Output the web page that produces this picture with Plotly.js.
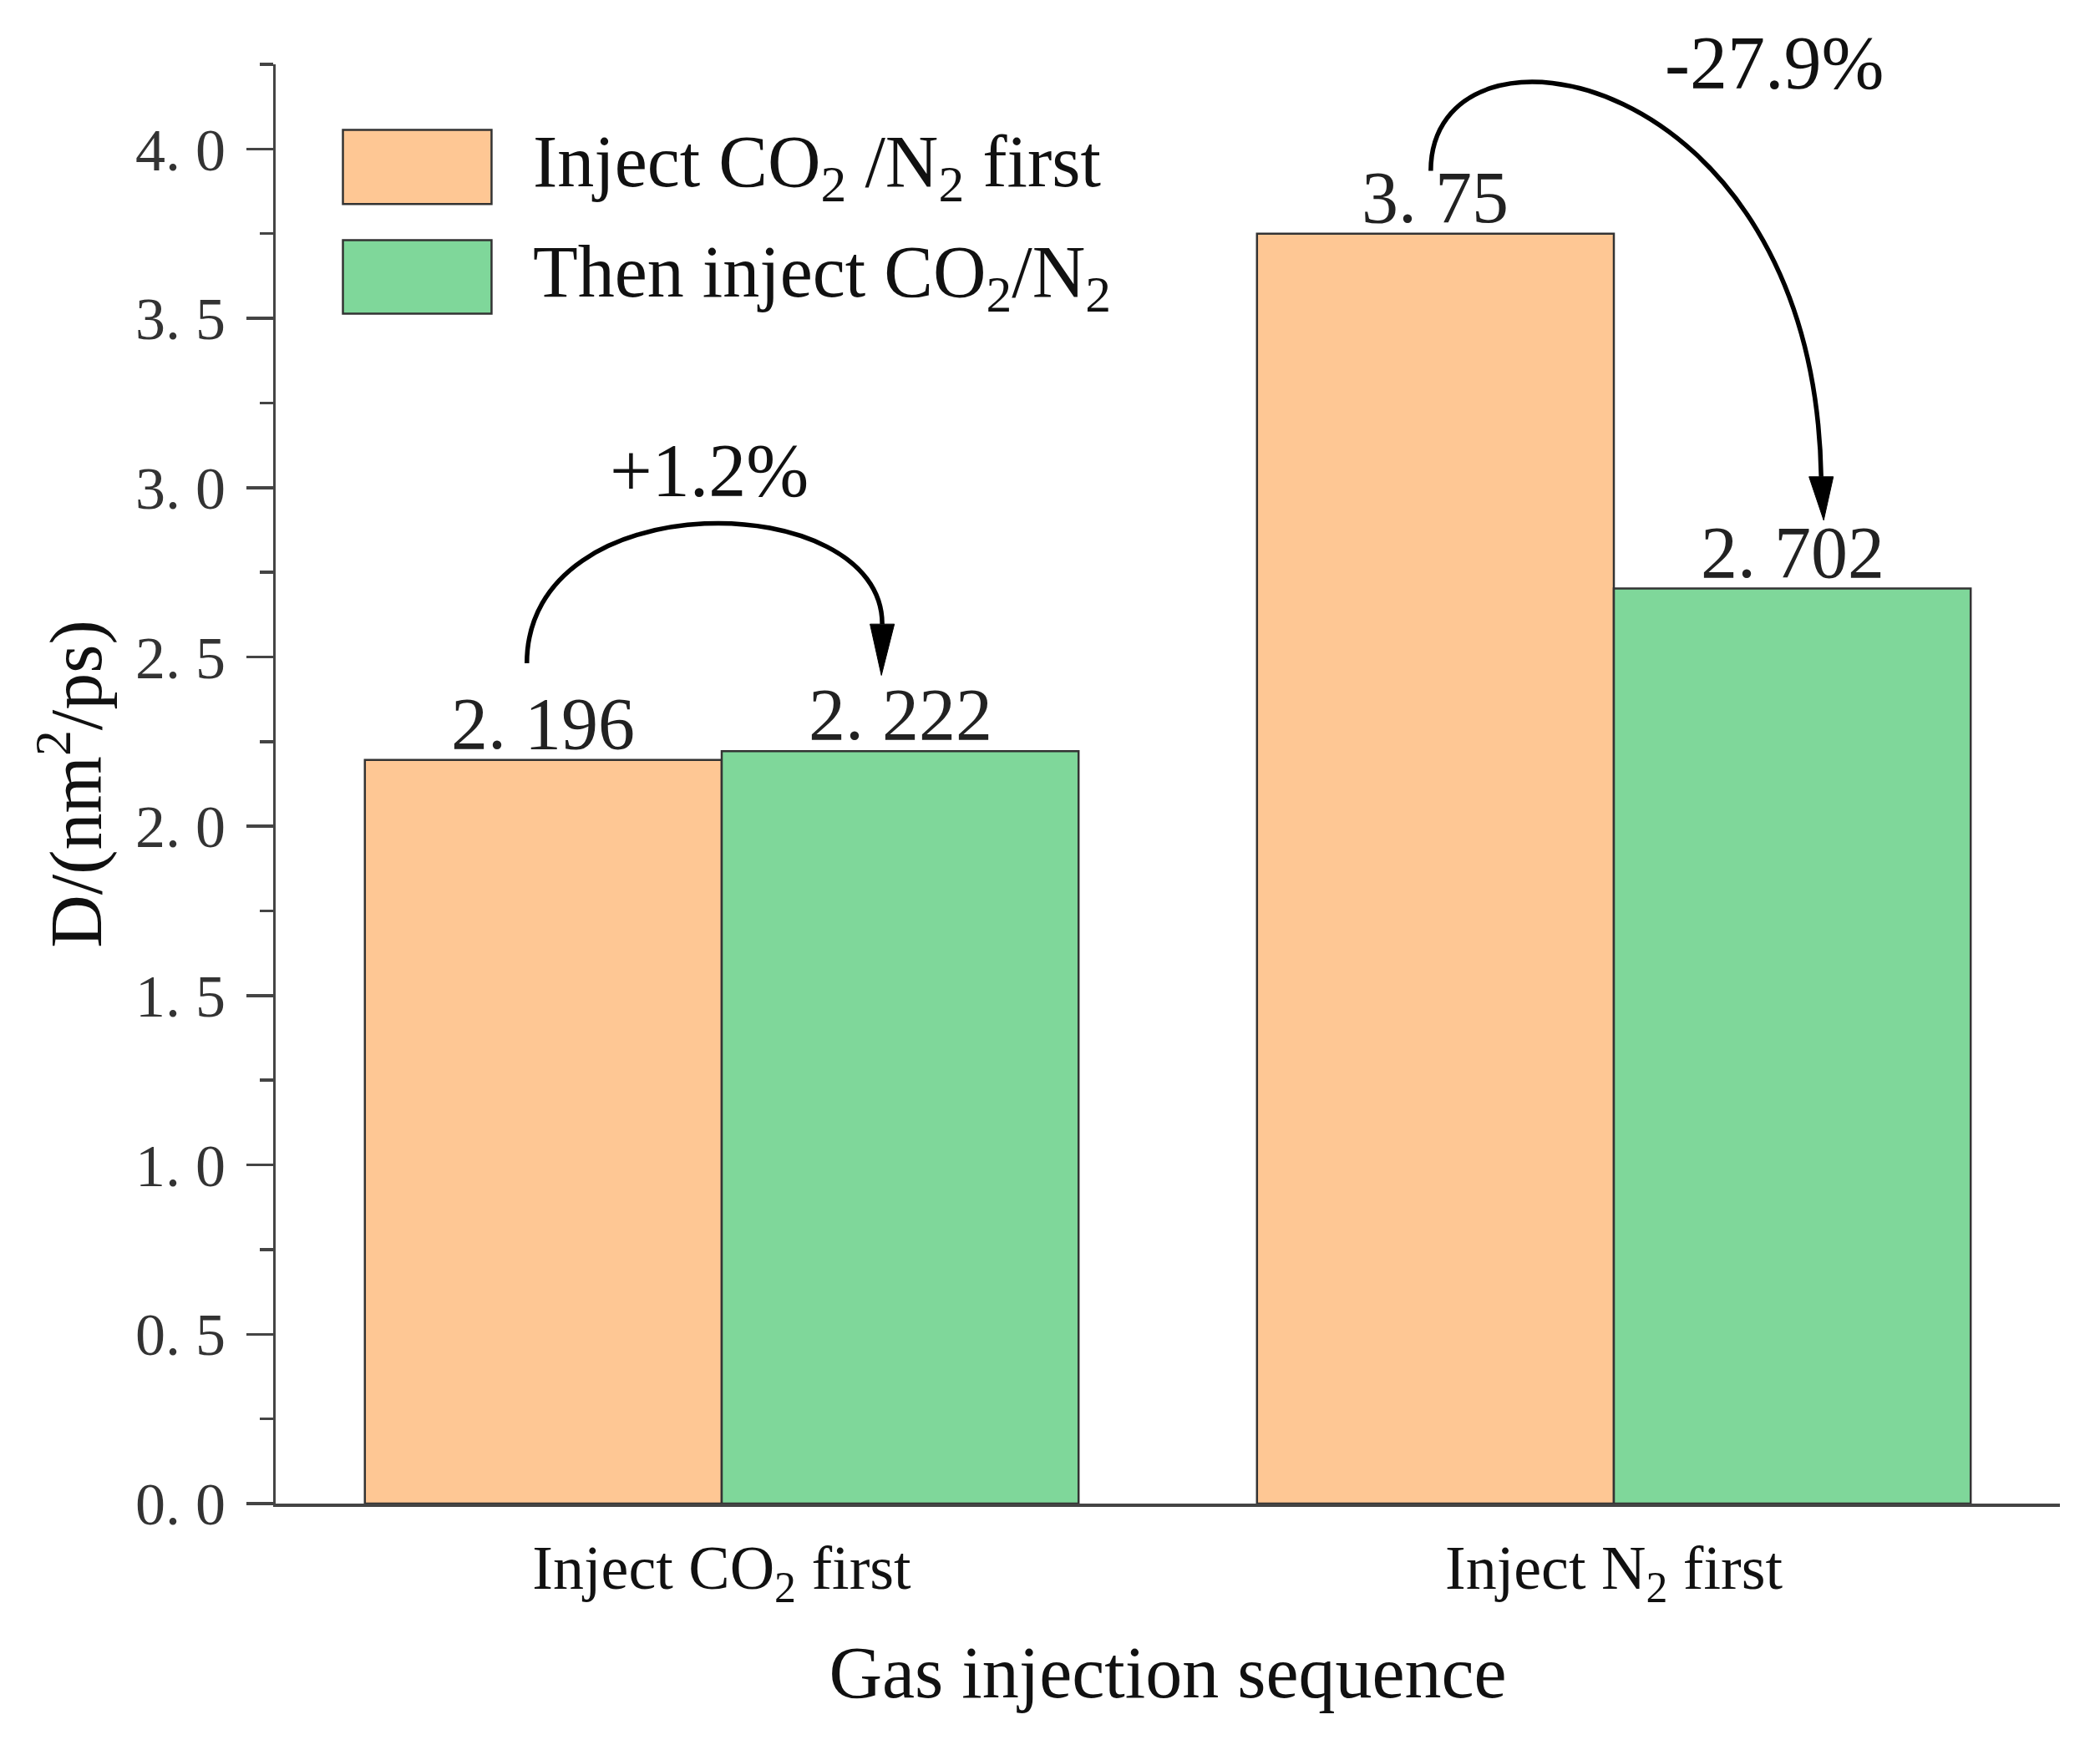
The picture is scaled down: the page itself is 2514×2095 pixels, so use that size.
<!DOCTYPE html>
<html><head><meta charset="utf-8">
<script src="https://cdn.plot.ly/plotly-3.0.1.min.js"></script>
<style>html,body{margin:0;padding:0;background:#fff}</style>
</head><body>
<div id="chart" style="width:2514px;height:2095px"></div>
<script>
// ---- data ----
const categories = ['Inject CO<sub>2</sub> first', 'Inject N<sub>2</sub> first'];
const categoryPos = [0, 1];
const seriesNames = ['Inject CO<sub>2</sub> /N<sub>2</sub> first', 'Then inject CO<sub>2</sub>/N<sub>2</sub>'];
const firstValues = [2.196, 3.75];
const thenValues = [2.222, 2.702];
const changeLabels = ['+1.2%', '-27.9%'];
const yTickVals = [0, 0.5, 1, 1.5, 2, 2.5, 3, 3.5, 4];
const yTickText = ['0. 0', '0. 5', '1. 0', '1. 5', '2. 0', '2. 5', '3. 0', '3. 5', '4. 0'];

// ---- style ----
const FONT = 'Liberation Serif, Times New Roman, serif';
const colors = ['#FEC794', '#7FD79A'];
const edge = '#333333';
const axisColor = '#444444';
const barOffset = 0.2;

function fmt(v) { return String(v).replace('.', '. '); }

const traces = [firstValues, thenValues].map((vals, s) => ({
  type: 'bar',
  name: seriesNames[s],
  x: categoryPos,
  y: vals,
  marker: {color: colors[s], line: {color: edge, width: 2.5}},
  showlegend: false,
  hoverinfo: 'none'
}));

const annotations = [];
// value labels
[firstValues, thenValues].forEach((vals, s) => {
  vals.forEach((v, i) => {
    annotations.push({
      x: categoryPos[i] + (s === 0 ? -barOffset : barOffset), y: v,
      xref: 'x', yref: 'y', text: fmt(v), showarrow: false,
      xanchor: 'center', yanchor: 'bottom', yshift: -7,
      font: {family: FONT, size: 88, color: '#222'}
    });
  });
});
// change labels (position: data x, data y + pixel shift)
const changePos = [{x: -0.014, y: 3.05, shift: 0}, {x: 1.18, y: 4.2, shift: 22}];
changeLabels.forEach((t, i) => {
  annotations.push({
    x: changePos[i].x, y: changePos[i].y, xref: 'x', yref: 'y', text: t,
    showarrow: false, xanchor: 'center', yanchor: 'middle', yshift: changePos[i].shift,
    font: {family: FONT, size: 90, color: '#111'}
  });
});
// legend (drawn as shapes + text)
const legendBoxes = [
  {x0: 0.0377, x1: 0.121, y0: 0.903, y1: 0.9544},
  {x0: 0.0377, x1: 0.121, y0: 0.8268, y1: 0.8778}
];
seriesNames.forEach((n, s) => {
  annotations.push({
    x: 0.1432, y: (legendBoxes[s].y0 + legendBoxes[s].y1) / 2, xref: 'paper', yref: 'paper',
    text: n, showarrow: false, xanchor: 'left', yanchor: 'middle',
    font: {family: FONT, size: 88, color: '#111'}
  });
});

const shapes = [];
legendBoxes.forEach((b, s) => {
  shapes.push({type: 'rect', xref: 'paper', yref: 'paper', x0: b.x0, x1: b.x1, y0: b.y0, y1: b.y1,
    fillcolor: colors[s], line: {color: edge, width: 2.5}});
});
// curved arrows (annotation geometry)
const arrows = [
  {p0: [-0.2184, 2.4814], p1: [-0.2184, 3.0219], p2: [0.1799, 3.0022], p3: [0.1799, 2.597], tip: [0.179, 2.4457]},
  {p0: [0.7948, 3.9353], p1: [0.7948, 4.4413], p2: [1.224, 4.256], p3: [1.2324, 3.0321], tip: [1.2352, 2.9038]}
];
const headHalf = 0.0136;
arrows.forEach(a => {
  shapes.push({type: 'path', xref: 'x', yref: 'y',
    path: `M ${a.p0[0]},${a.p0[1]} C ${a.p1[0]},${a.p1[1]} ${a.p2[0]},${a.p2[1]} ${a.p3[0]},${a.p3[1]}`,
    line: {color: '#000', width: 5.5}});
  shapes.push({type: 'path', xref: 'x', yref: 'y',
    path: `M ${a.p3[0]-headHalf},${a.p3[1]} L ${a.p3[0]+headHalf},${a.p3[1]} L ${a.tip[0]},${a.tip[1]} Z`,
    fillcolor: '#000', line: {color: '#000', width: 1}});
});

const layout = {
  width: 2514, height: 2095,
  margin: {l: 330, r: 47.5, t: 76.5, b: 295.4, pad: 0},
  paper_bgcolor: '#fff', plot_bgcolor: '#fff',
  barmode: 'group', bargap: 0.2, bargroupgap: 0,
  showlegend: false,
  font: {family: FONT, color: '#111'},
  xaxis: {
    range: [-0.5, 1.5], tickmode: 'array', tickvals: categoryPos, ticktext: categories,
    showline: true, linecolor: axisColor, linewidth: 3.5, ticks: '', showgrid: false, zeroline: false,
    tickfont: {family: FONT, size: 74, color: '#111'}, ticklabelstandoff: 10,
    title: {text: 'Gas injection sequence', font: {family: FONT, size: 88, color: '#111'}, standoff: 43}
  },
  yaxis: {
    range: [0, 4.25], tickmode: 'array', tickvals: yTickVals, ticktext: yTickText,
    ticks: 'outside', ticklen: 32, tickwidth: 3.5, tickcolor: axisColor,
    showline: true, linecolor: axisColor, linewidth: 3.5, showgrid: false, zeroline: false,
    tickfont: {family: FONT, size: 72, color: '#333'}, ticklabelstandoff: 10,
    minor: {tickmode: 'linear', tick0: 0, dtick: 0.25, ticks: 'outside', ticklen: 16, tickwidth: 3.5, tickcolor: axisColor, showgrid: false},
    title: {text: 'D/(nm<sup>2</sup>/ps)', font: {family: FONT, size: 88, color: '#111'}, standoff: 12}
  },
  annotations: annotations,
  shapes: shapes
};

Plotly.newPlot('chart', traces, layout, {displayModeBar: false, staticPlot: true});
</script>
</body></html>
